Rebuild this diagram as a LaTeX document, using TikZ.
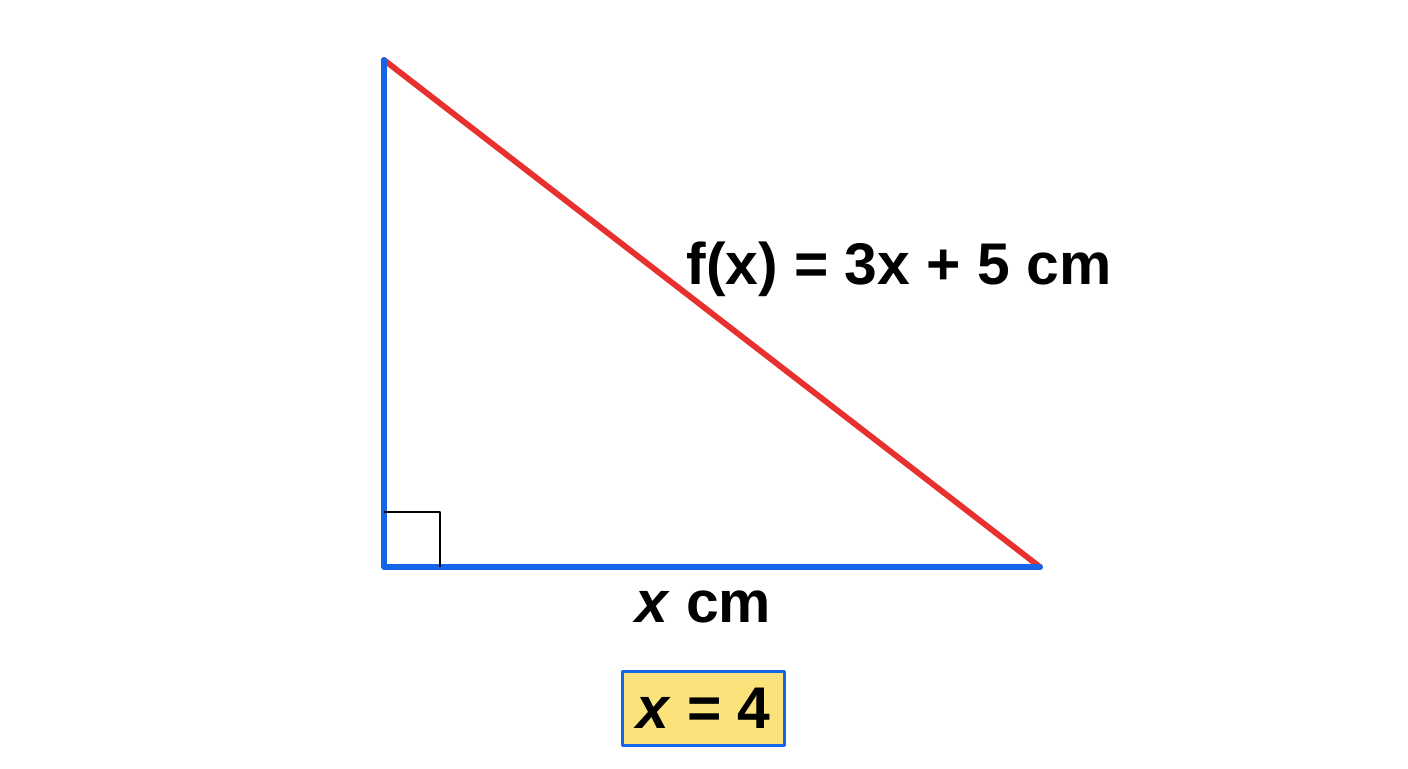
\documentclass[tikz,border=0pt]{standalone}
\usepackage{fontspec}
\setmainfont{Liberation Sans}
\usepackage{tikz}
\usetikzlibrary{positioning}
\definecolor{legblue}{HTML}{1565E8}
\definecolor{hypred}{HTML}{E8302E}
\definecolor{boxyellow}{HTML}{FCE27A}

\begin{document}
\begin{tikzpicture}[x=0.5pt,y=-0.5pt,line cap=round,line join=round,
  leg/.style={draw=legblue,line width=2.9pt},
  hyp/.style={draw=hypred,line width=2.9pt},
  lbl/.style={font=\fontsize{29.4}{34}\selectfont\bfseries,anchor=base,inner sep=0pt},
  valbox/.style={draw=legblue,fill=boxyellow,line width=1.9pt,minimum width=81pt,minimum height=37pt,font=\fontsize{29.4}{34}\selectfont\bfseries}]

\useasboundingbox (0,0) rectangle (1408,768);

\coordinate (A) at (384,60);
\coordinate (B) at (384,567);
\coordinate (C) at (1040,567);

\draw[hyp] (A) -- (C);
\draw[leg] (A) -- (B) -- (C);
\draw[black,line width=1.2pt,line cap=butt] (384,512) -| (440,567);

\node[lbl] (hyplbl) at (899,284) {f(x) = 3x + 5 cm};
\node[lbl] (baselbl) at (703,622) {\textit{x} cm};
\node[valbox] (xval) at (703.5,708.5) {\textit{x} = 4};
\end{tikzpicture}
\end{document}
